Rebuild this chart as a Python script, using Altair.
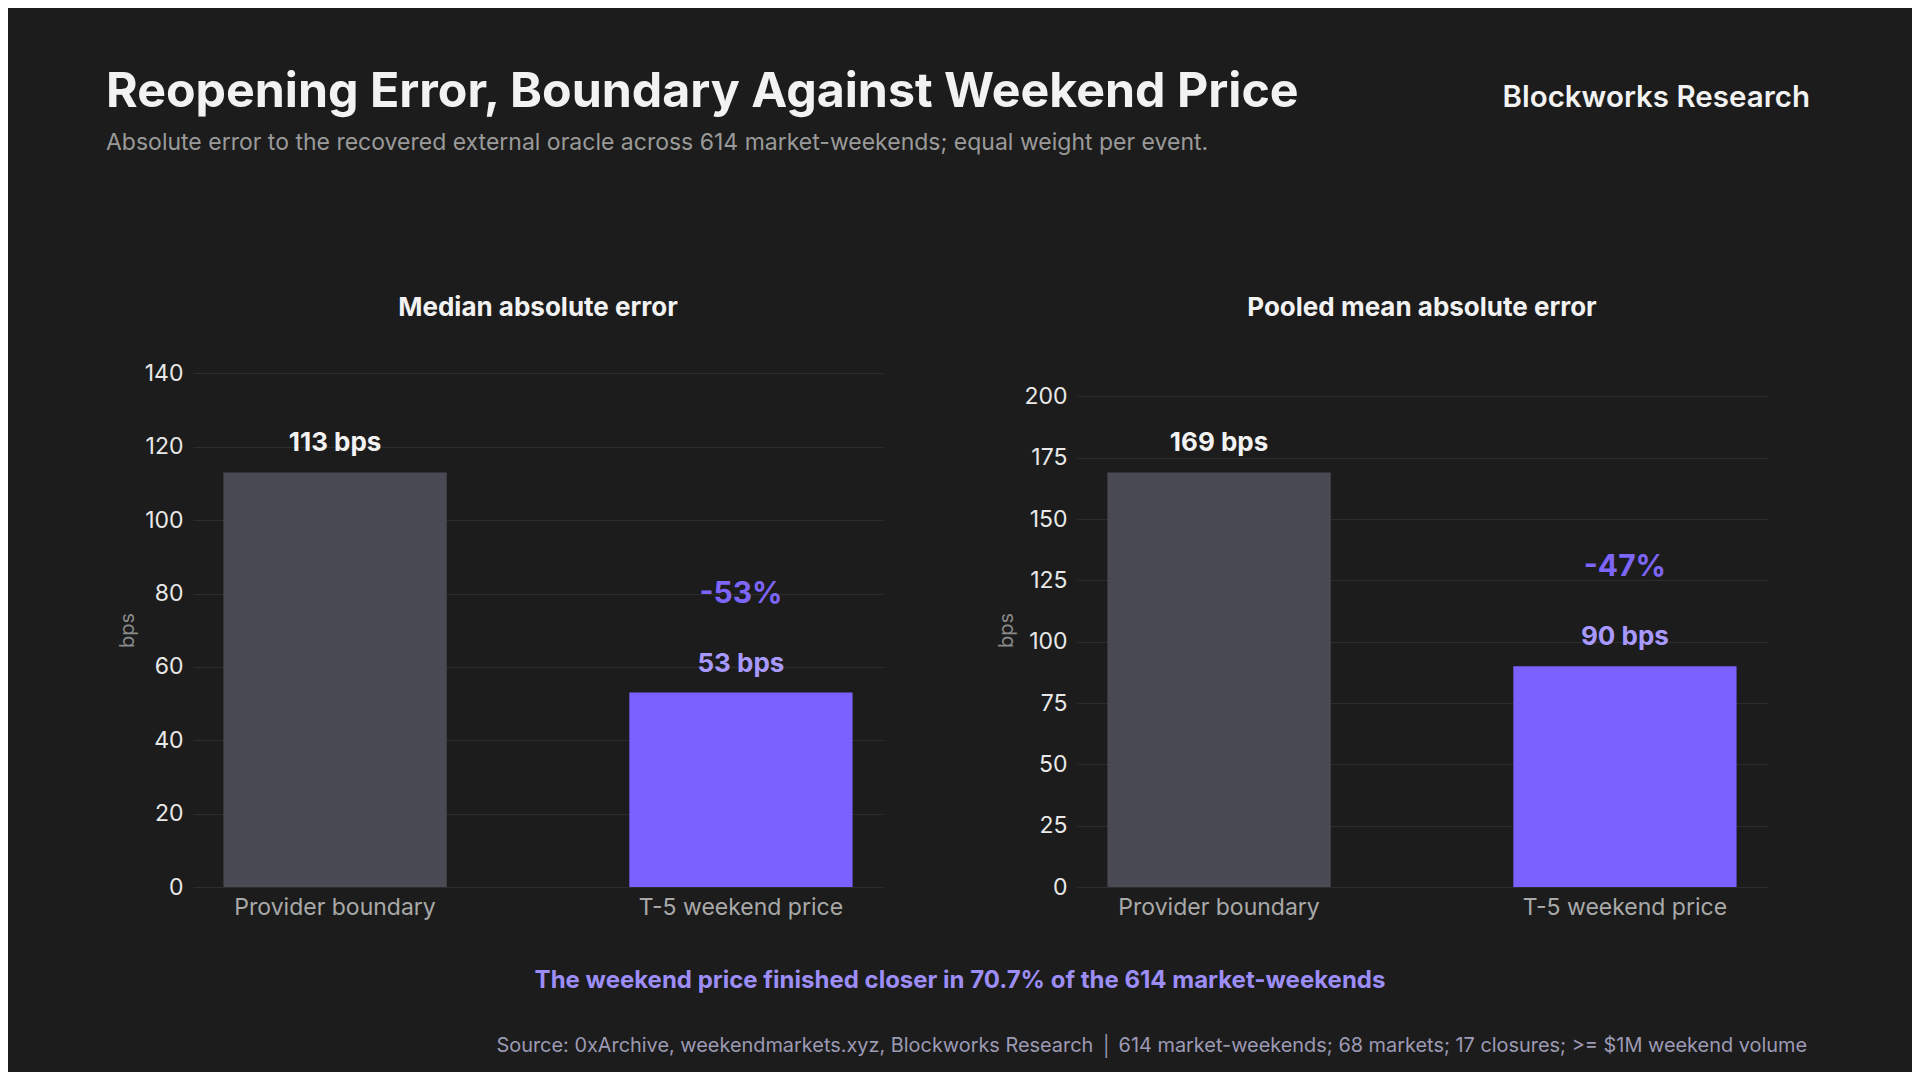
import altair as alt
import pandas as pd

# values
categories = ["Provider boundary", "T-5 weekend price"]
median_bps = [113, 53]
pooled_bps = [169, 90]
median_ticks = [0, 20, 40, 60, 80, 100, 120, 140]
pooled_ticks = [0, 25, 50, 75, 100, 125, 150, 175, 200]
median_change = ["", "-53%"]
pooled_change = ["", "-47%"]

title = "Reopening Error, Boundary Against Weekend Price"
subtitle = ("Absolute error to the recovered external oracle across 614 "
            "market-weekends; equal weight per event.")
brand = "Blockworks Research"
note = "The weekend price finished closer in 70.7% of the 614 market-weekends"
source = ("Source: 0xArchive, weekendmarkets.xyz, Blockworks Research  \u2502  "
          "614 market-weekends; 68 markets; 17 closures; >= $1M weekend volume")

FONT = "Inter"
W, H = 690, 514
GRAY_BAR = "#4a4a54"
PURPLE = "#7b61ff"


def text_layer(txt, x, y, size, color, weight="normal", align="left"):
    return alt.Chart(pd.DataFrame({"t": [txt]})).mark_text(
        font=FONT, fontSize=size, fontWeight=weight, color=color,
        align=align, baseline="alphabetic"
    ).encode(text="t:N", x=alt.value(x), y=alt.value(y))


def panel(values, ticks, change, name):
    df = pd.DataFrame({
        "cat": categories,
        "bps": values,
        "label": [f"{v} bps" for v in values],
        "change": change,
    })
    top = max(values) * 1.24

    base = alt.Chart(df).encode(
        x=alt.X("cat:N", sort=categories, title=None,
                scale=alt.Scale(paddingInner=0.45, paddingOuter=0.075),
                axis=alt.Axis(labelAngle=0, domain=False, ticks=False,
                              labelColor="#a9a9a9", labelFontSize=23,
                              labelPadding=9, labelFont=FONT, labelLimit=0)),
        y=alt.Y("bps:Q", scale=alt.Scale(domain=[0, top], nice=False),
                axis=alt.Axis(values=ticks, title="bps", grid=True,
                              gridColor="#2d2d2d", domain=False, ticks=False,
                              labelColor="#e8e8e8", labelFontSize=23,
                              labelPadding=10, labelFont=FONT,
                              titleColor="#8a8a8a", titleFontSize=20,
                              titleFontWeight="normal", titleFont=FONT,
                              titlePadding=7)),
    )

    is_first = alt.datum.cat == categories[0]

    bars = base.mark_bar().encode(
        color=alt.condition(is_first, alt.value(GRAY_BAR), alt.value(PURPLE))
    )

    values_text = base.mark_text(
        font=FONT, fontSize=26, fontWeight="bold", baseline="alphabetic", dy=-21
    ).encode(
        text="label:N",
        color=alt.condition(is_first, alt.value("#f2f2f2"), alt.value("#a899ff")),
    )

    change_text = base.mark_text(
        font=FONT, fontSize=30, fontWeight="bold", baseline="alphabetic",
        dy=-90, color="#7d65f7"
    ).encode(text="change:N").transform_filter(alt.datum.change != "")

    head = text_layer(name, W / 2, -57, 26, "#f2f2f2", "bold", "center")

    return alt.layer(bars, values_text, change_text, head).properties(
        width=W, height=H
    )


left = panel(median_bps, median_ticks, median_change, "Median absolute error")
right = panel(pooled_bps, pooled_ticks, pooled_change, "Pooled mean absolute error")

# page texts, placed relative to the left plot area
overlay = alt.layer(
    text_layer(title, -87, -266.5, 48.3, "#f2f2f2", "bold"),
    text_layer(subtitle, -87, -223, 23, "#9a9a9a"),
    text_layer(brand, 1617, -266, 29.5, "#f2f2f2", 600, "right"),
    text_layer(note, 767, 615, 24, "#9d8df6", "bold", "center"),
    text_layer(source, 1614, 679, 19.9, "#9c9ab4", "normal", "right"),
)

left = alt.layer(left, overlay)

chart = alt.hconcat(left, right, spacing=194, bounds="flush").properties(
    padding={"left": 98, "top": 59, "right": 102, "bottom": 16}
).configure(
    background="#1c1c1c"
).configure_view(
    stroke=None
)

chart.save("out.html", embed_options={"renderer": "svg", "actions": False})
